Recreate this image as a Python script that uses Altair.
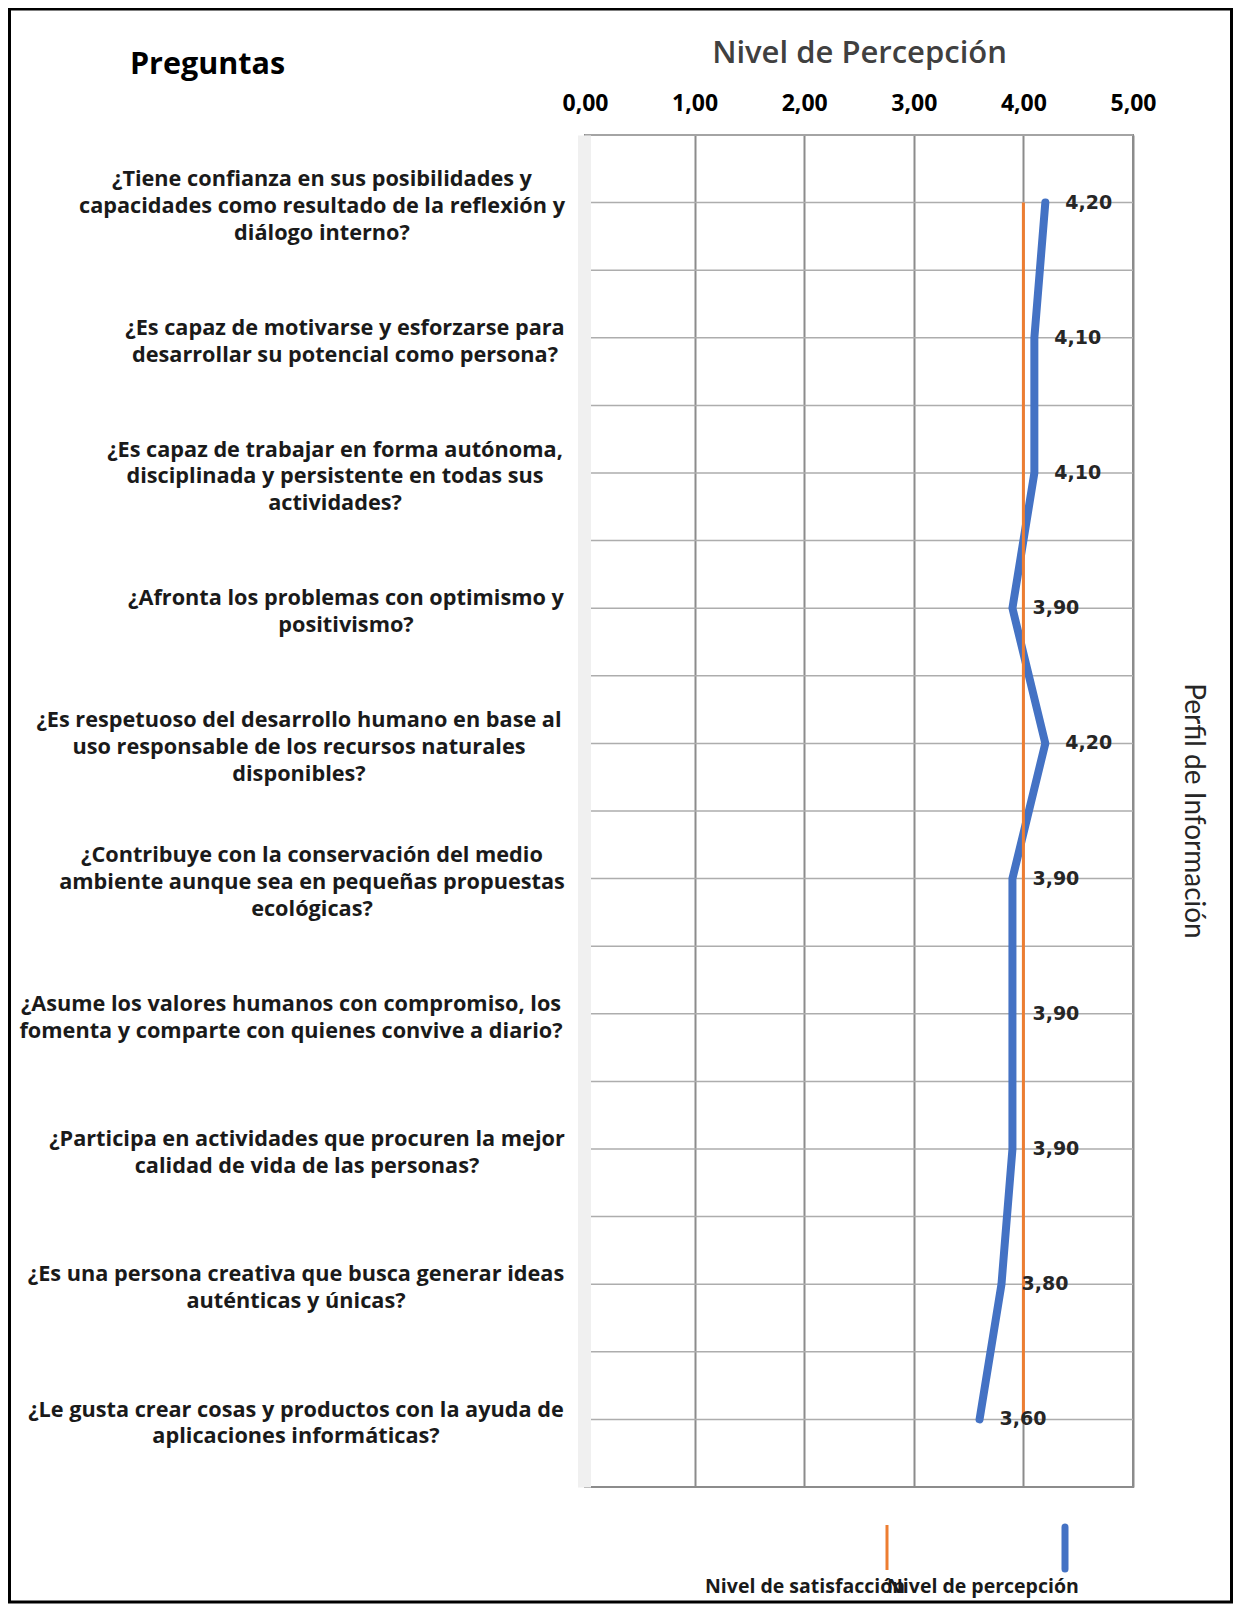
import altair as alt
import pandas as pd

# ---------------- data ----------------
questions = [
    "¿Tiene confianza en sus posibilidades y\ncapacidades como resultado de la reflexión y\ndiálogo interno?",
    "¿Es capaz de motivarse y esforzarse para\ndesarrollar su potencial como persona?",
    "¿Es capaz de trabajar en forma autónoma,\ndisciplinada y persistente en todas sus\nactividades?",
    "¿Afronta los problemas con optimismo y\npositivismo?",
    "¿Es respetuoso del desarrollo humano en base al\nuso responsable de los recursos naturales\ndisponibles?",
    "¿Contribuye con la conservación del medio\nambiente aunque sea en pequeñas propuestas\necológicas?",
    "¿Asume los valores humanos con compromiso, los\nfomenta y comparte con quienes convive a diario?",
    "¿Participa en actividades que procuren la mejor\ncalidad de vida de las personas?",
    "¿Es una persona creativa que busca generar ideas\nauténticas y únicas?",
    "¿Le gusta crear cosas y productos con la ayuda de\naplicaciones  informáticas?",
]
perception = [4.20, 4.10, 4.10, 3.90, 4.20, 3.90, 3.90, 3.90, 3.80, 3.60]
satisfaction = [4.00, 4.00, 4.00, 4.00, 4.00, 4.00, 4.00, 4.00, 4.00, 4.00]
x_ticks = [0, 1, 2, 3, 4, 5]
series_names = ["Nivel de satisfacción", "Nivel de percepción"]

# ---------------- layout (pixels, relative to plot origin) ----------------
label_center_px = [-263, -240, -250, -239, -286, -273, -294, -278, -289, -289]
LH = 26.7

ORANGE = "#ED7D31"
BLUE = "#4472C4"
W, H = 548, 1352
QFONT = "Open Sans"

ids = [f"P{i + 1}" for i in range(len(questions))]
df_p = pd.DataFrame({"id": ids, "idx": list(range(len(ids))), "value": perception})
df_s = pd.DataFrame({"id": ids, "idx": list(range(len(ids))), "value": satisfaction})
df_q = pd.DataFrame({
    "id": ids, "text": questions, "cx": label_center_px,
    "n": [q.count("\n") + 1 for q in questions],
})
one = pd.DataFrame({"k": [0]})

ysc = alt.Scale(domain=ids, paddingInner=0, paddingOuter=0)
xsc = alt.Scale(domain=[0, 5], nice=False, zero=True)

y_axis = alt.Axis(
    title="Preguntas", labels=False, ticks=False, grid=False,
    domainColor="#F0F0F0", domainWidth=13, offset=1, zindex=1,
    titleAngle=0, titleX=-377, titleY=-71, titleAlign="center",
    titleBaseline="middle", titleFontSize=30.5, titleFont=QFONT,
    titleFontWeight="bold", titleColor="#000000",
)
x_axis = alt.Axis(
    orient="top", values=x_ticks, title="Nivel de Percepción",
    labelExpr="replace(format(datum.value, '.2f'), '.', ',')",
    ticks=False, tickSize=0, domain=False, labelPadding=32, labelFlush=False,
    labelBaseline="middle", labelFont=QFONT, labelFontWeight="bold",
    labelFontSize=23, labelColor="#000000",
    grid=True, gridWidth=2,
    gridColor=alt.condition("datum.value == 0", alt.value("transparent"), alt.value("#8C8C8C")),
    titleX=W / 2, titleY=-82, titleAlign="center", titleBaseline="middle",
    titleFont=QFONT, titleFontSize=31, titleFontWeight=600, titleColor="#404040",
)

grid_c = alt.Chart(df_q).mark_rule(color="#ADADAD", strokeWidth=1.5).encode(
    y=alt.Y("id:N", scale=ysc, axis=y_axis)
)
grid_e = alt.Chart(df_q).mark_rule(color="#ADADAD", strokeWidth=1.5).encode(
    y=alt.Y("id:N", scale=ysc, bandPosition=0)
)

line_p = alt.Chart(df_p).mark_line(color=BLUE, strokeWidth=8, strokeCap="round").encode(
    x=alt.X("value:Q", scale=xsc, axis=x_axis),
    y=alt.Y("id:N", scale=ysc),
    order="idx:Q",
)
line_s = alt.Chart(df_s).mark_line(color=ORANGE, strokeWidth=3).encode(
    x=alt.X("value:Q", scale=xsc),
    y=alt.Y("id:N", scale=ysc),
    order="idx:Q",
)
labels = alt.Chart(df_p).transform_calculate(
    lab="replace(format(datum.value, '.2f'), '.', ',')"
).mark_text(
    align="left", baseline="middle", dx=20, font="DejaVu Sans",
    fontWeight="bold", fontSize=19, color="#262626",
).encode(
    x=alt.X("value:Q", scale=xsc),
    y=alt.Y("id:N", scale=ysc),
    text="lab:N",
)


def q_layer(n):
    return alt.Chart(df_q).transform_filter(f"datum.n == {n}").mark_text(
        align="center", baseline="middle", lineBreak="\n", lineHeight=LH,
        dy=-(n - 1) * LH / 2 + 3.5,
        font=QFONT, fontWeight="bold", fontSize=21.7, color="#1A1A1A",
    ).encode(
        x=alt.X("cx:Q", scale=None),
        y=alt.Y("id:N", scale=ysc),
        text="text:N",
    )


right_title = alt.Chart(one).mark_text(
    text="Perfil de Información", angle=90, align="center", baseline="middle",
    font="Lato", fontSize=28, color="#262626",
).encode(x=alt.value(608), y=alt.value(H / 2))

leg_s = alt.Chart(one).mark_rule(color=ORANGE, strokeWidth=3).encode(
    x=alt.value(302), y=alt.value(1390), y2=alt.value(1435)
)
leg_p = alt.Chart(one).mark_rule(color=BLUE, strokeWidth=7, strokeCap="round").encode(
    x=alt.value(480), y=alt.value(1392), y2=alt.value(1434)
)
leg_s_t = alt.Chart(one).mark_text(
    text=series_names[0], align="left", baseline="middle",
    font=QFONT, fontWeight="bold", fontSize=19.5, color="#1A1A1A",
).encode(x=alt.value(120), y=alt.value(1452))
leg_p_t = alt.Chart(one).mark_text(
    text=series_names[1], align="left", baseline="middle",
    font=QFONT, fontWeight="bold", fontSize=19.5, color="#1A1A1A",
).encode(x=alt.value(302), y=alt.value(1452))

frame = alt.Chart(one).mark_rect(fill="transparent", stroke="#000000", strokeWidth=3).encode(
    x=alt.value(-575.5), x2=alt.value(646.5), y=alt.value(-126), y2=alt.value(1467)
)

chart = alt.layer(
    grid_c, grid_e, line_p, line_s, labels, q_layer(2), q_layer(3), right_title,
    leg_s, leg_p, leg_s_t, leg_p_t, frame,
).properties(
    width=W, height=H,
    autosize=alt.AutoSizeParams(type="none"),
    padding={"left": 577, "top": 127, "right": 100, "bottom": 117},
    background="white",
).configure_view(stroke="#8C8C8C", strokeWidth=2)

chart.save("out.html", embed_options={"renderer": "svg", "actions": False})
